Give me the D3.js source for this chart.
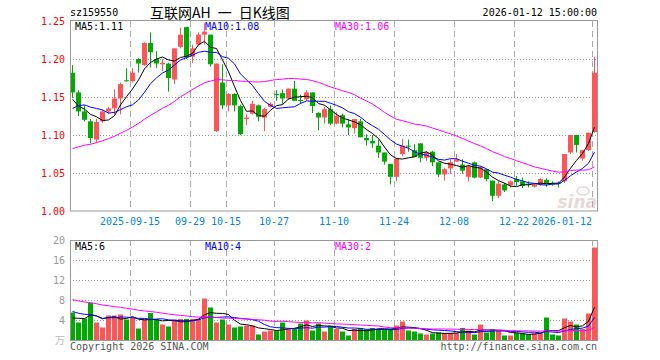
<!DOCTYPE html>
<html>
<head>
<meta charset="utf-8">
<script src="https://cdn.jsdelivr.net/npm/d3@7"></script>
<style>
  body { margin: 0; background: #fff; }
  svg { display: block; }
  text { font-family: "DejaVu Sans Mono", monospace; font-size: 10px; }
</style>
</head>
<body>
<div id="chart"></div>
<script>
// daily bars 2025-09-01 .. 2026-01-12
const openP = [
  1.182, 1.156, 1.131, 1.118, 1.094, 1.118, 1.131, 1.135, 1.148, 1.172,
  1.171, 1.200, 1.192, 1.221, 1.200, 1.193, 1.194, 1.173, 1.216, 1.242,
  1.203, 1.219, 1.232, 1.232, 1.105, 1.169, 1.139, 1.154, 1.138, 1.121,
  1.128, 1.139, 1.123, 1.137, 1.154, 1.155, 1.148, 1.161, 1.146, 1.147,
  1.156, 1.129, 1.123, 1.134, 1.115, 1.126, 1.114, 1.109, 1.118, 1.096,
  1.092, 1.086, 1.077, 1.062, 1.045, 1.075, 1.086, 1.080, 1.089, 1.070,
  1.078, 1.064, 1.048, 1.056, 1.065, 1.061, 1.045, 1.064, 1.044, 1.055,
  1.040, 1.020, 1.035, 1.034, 1.042, 1.039, 1.036, 1.032, 1.035, 1.041,
  1.037, 1.037, 1.039, 1.077, 1.100, 1.069, 1.080, 1.104
]
const highP = [
  1.192, 1.159, 1.139, 1.121, 1.121, 1.133, 1.137, 1.160, 1.169, 1.188,
  1.188, 1.201, 1.222, 1.235, 1.210, 1.200, 1.195, 1.214, 1.241, 1.242,
  1.219, 1.235, 1.247, 1.232, 1.194, 1.193, 1.155, 1.155, 1.140, 1.128,
  1.145, 1.140, 1.136, 1.143, 1.159, 1.160, 1.161, 1.171, 1.153, 1.159,
  1.156, 1.130, 1.137, 1.139, 1.130, 1.128, 1.121, 1.121, 1.121, 1.101,
  1.100, 1.094, 1.077, 1.062, 1.069, 1.095, 1.094, 1.088, 1.089, 1.079,
  1.079, 1.064, 1.057, 1.068, 1.075, 1.068, 1.061, 1.065, 1.059, 1.055,
  1.040, 1.040, 1.037, 1.040, 1.046, 1.044, 1.039, 1.036, 1.043, 1.043,
  1.039, 1.039, 1.075, 1.100, 1.100, 1.080, 1.103, 1.203
]
const lowP = [
  1.149, 1.125, 1.118, 1.089, 1.090, 1.116, 1.128, 1.127, 1.127, 1.170,
  1.169, 1.182, 1.191, 1.189, 1.188, 1.184, 1.157, 1.167, 1.214, 1.200,
  1.195, 1.218, 1.219, 1.190, 1.104, 1.134, 1.131, 1.131, 1.100, 1.113,
  1.127, 1.118, 1.105, 1.136, 1.145, 1.141, 1.146, 1.145, 1.141, 1.145,
  1.129, 1.106, 1.115, 1.113, 1.114, 1.110, 1.100, 1.102, 1.097, 1.086,
  1.083, 1.070, 1.061, 1.035, 1.039, 1.072, 1.078, 1.071, 1.064, 1.066,
  1.059, 1.045, 1.040, 1.049, 1.065, 1.049, 1.039, 1.043, 1.043, 1.039,
  1.013, 1.017, 1.025, 1.031, 1.033, 1.030, 1.031, 1.031, 1.033, 1.032,
  1.033, 1.031, 1.037, 1.075, 1.077, 1.066, 1.079, 1.103
]
const closeP = [
  1.156, 1.131, 1.120, 1.096, 1.117, 1.131, 1.135, 1.148, 1.167, 1.171,
  1.182, 1.194, 1.221, 1.209, 1.194, 1.195, 1.175, 1.214, 1.232, 1.202,
  1.214, 1.232, 1.236, 1.193, 1.194, 1.139, 1.154, 1.139, 1.101, 1.123,
  1.141, 1.124, 1.134, 1.141, 1.153, 1.148, 1.161, 1.145, 1.145, 1.156,
  1.138, 1.123, 1.134, 1.115, 1.125, 1.115, 1.110, 1.121, 1.097, 1.093,
  1.089, 1.077, 1.065, 1.045, 1.069, 1.086, 1.085, 1.071, 1.070, 1.077,
  1.064, 1.048, 1.055, 1.064, 1.068, 1.053, 1.059, 1.044, 1.058, 1.042,
  1.020, 1.036, 1.027, 1.039, 1.038, 1.033, 1.035, 1.035, 1.042, 1.035,
  1.035, 1.036, 1.075, 1.100, 1.087, 1.080, 1.103, 1.182
]
// volume, 万
const volume = [
  5.5, 3.5, 4.3, 7.4, 3.5, 2.5, 4.9, 4.9, 5.1, 4.1,
  4.4, 2.3, 4.2, 5.4, 4.1, 3.1, 2.7, 4.1, 4.2, 4.2,
  4.2, 4.2, 8.3, 6.5, 3.5, 4.1, 3.1, 2.5, 2.7, 2.9,
  2.9, 1.1, 1.7, 1.9, 1.9, 3.5, 2.2, 2.2, 3.3, 3.9,
  1.9, 3.3, 1.7, 2.9, 2.2, 1.7, 0.9, 2.2, 2.4, 2.1,
  2.4, 2.2, 2.1, 2.2, 2.9, 3.7, 1.9, 1.7, 1.3, 1.1,
  1.3, 1.5, 1.4, 1.4, 1.4, 2.4, 1.9, 1.1, 3.1, 1.5,
  2.2, 1.9, 0.9, 0.9, 1.4, 1.3, 1.1, 1.3, 1.5, 4.5,
  1.1, 0.9, 4.3, 3.7, 3.1, 2.2, 5.3, 18.5
]
// sessions before the window, only feed the moving averages
const preCloses = [
  1.058, 1.055, 1.060, 1.052, 1.057, 1.050, 1.054, 1.049, 1.053, 1.056,
  1.051, 1.055, 1.058, 1.054, 1.052, 1.057, 1.060, 1.055, 1.059, 1.065,
  1.095, 1.110, 1.125, 1.135, 1.150, 1.176, 1.140, 1.130, 1.133
]
const preVolumes = [
  11.0, 11.5, 10.4, 10.6, 9.9, 9.5, 10.2, 9.2, 9.8, 9.6,
  8.8, 8.4, 9.0, 8.6, 8.8, 7.8, 8.4, 7.6, 8.0, 8.2,
  7.0, 6.5, 7.5, 6.8, 7.2, 3.8, 4.6, 3.9, 4.2
]
const tickIndex = [10, 20, 26, 34, 44, 54, 64, 74, 87]
const tickLabels = ['2025-09-15', '09-29', '10-15', '10-27', '11-10', '11-24', '12-08', '12-22', '2026-01-12']
const priceTicks = [1.00, 1.05, 1.10, 1.15, 1.20, 1.25]
const volTicks = [4, 8, 12, 16, 20]
const maPeriods = [5, 10, 30]
const maColors = ['#000000', '#0000ff', '#ff00ff']

const W = 660, H = 360
const left = 70, right = 597
const upColor = '#ff5555', downColor = '#00aa00'
const gridColor = '#aaaaaa'
const n = closeP.length

const svg = d3.select('#chart').append('svg').attr('width', W).attr('height', H)

// scales
const x = d3.scaleLinear().domain([0, 88]).range([left, left + 6 * 88])
const yP = d3.scaleLinear().domain([1.0, 1.25]).range([211, 21])
const yV = d3.scaleLinear().domain([0, 20]).range([340, 240])
const cx = i => x(i) + 2.5

const movingAvg = (vals, pre, p) => {
  const all = pre.concat(vals)
  return vals.map((_, i) => d3.mean(all.slice(i + pre.length - p + 1, i + pre.length + 1)))
}

// header
svg.append('text').attr('x', 70).attr('y', 16).text('sz159550')
svg.append('text').attr('x', 150).attr('y', 18)
  .style('font-family', '"Noto Sans CJK SC", sans-serif').style('font-size', '14px')
  .style('white-space', 'pre')
  .text('互联网AH\u2002一\u2002日K线图')
svg.append('text').attr('x', 597).attr('y', 16).attr('text-anchor', 'end').text('2026-01-12 15:00:00')

// sina watermark
const mark = svg.append('g').attr('opacity', 0.55)
mark.append('text').attr('x', 597).attr('y', 208).attr('text-anchor', 'end')
  .style('font-family', '"DejaVu Sans", sans-serif').style('font-size', '17px')
  .style('font-weight', 'bold').style('font-style', 'italic').attr('fill', '#d8b8b8').text('sina')
mark.append('ellipse').attr('cx', 583).attr('cy', 191).attr('rx', 6).attr('ry', 4)
  .attr('fill', 'none').attr('stroke', '#d8b8b8').attr('stroke-width', 1.5)

const panel = (g, y0, y1) => {
  // vertical dashed date lines
  g.selectAll('line.v').data(tickIndex).enter().append('line')
    .attr('x1', i => x(i) + 0.5).attr('x2', i => x(i) + 0.5)
    .attr('y1', y0).attr('y2', y1)
    .attr('stroke', gridColor).attr('stroke-dasharray', '6,4')
}

// ---- price panel ----
const pg = svg.append('g')
panel(pg, 21, 211)
pg.selectAll('line.h').data(priceTicks.slice(1, -1)).enter().append('line')
  .attr('x1', left).attr('x2', right)
  .attr('y1', d => Math.round(yP(d)) + 0.5).attr('y2', d => Math.round(yP(d)) + 0.5)
  .attr('stroke', '#999').attr('stroke-dasharray', '1,2')
pg.selectAll('text.pl').data(priceTicks).enter().append('text')
  .attr('x', 65).attr('y', d => yP(d) + 4).attr('text-anchor', 'end')
  .attr('fill', '#ff0000').text(d => d.toFixed(2))

const candles = pg.append('g')
d3.range(n).forEach(i => {
  const up = closeP[i] >= openP[i]
  const col = up ? upColor : downColor
  candles.append('line')
    .attr('x1', cx(i)).attr('x2', cx(i))
    .attr('y1', yP(highP[i])).attr('y2', yP(lowP[i]))
    .attr('stroke', col)
  const top = yP(Math.max(openP[i], closeP[i]))
  const bot = yP(Math.min(openP[i], closeP[i]))
  candles.append('rect')
    .attr('x', x(i)).attr('width', 5)
    .attr('y', top).attr('height', Math.max(1, bot - top))
    .attr('fill', col)
})

const priceMA = maPeriods.map(p => movingAvg(closeP, preCloses, p))
priceMA.forEach((m, k) => {
  pg.append('path').datum(m)
    .attr('d', d3.line().x((d, i) => cx(i)).y(d => yP(d)))
    .attr('fill', 'none').attr('stroke', maColors[k]).attr('stroke-width', 1)
})

pg.append('rect').attr('x', left + 0.5).attr('y', 20.5).attr('width', right - left).attr('height', 190.5)
  .attr('fill', 'none').attr('stroke', '#999')

maPeriods.forEach((p, k) => {
  pg.append('text').attr('x', 75 + k * 130).attr('y', 30).attr('fill', maColors[k])
    .text(`MA${p}:${priceMA[k][n - 1].toFixed(2)}`)
})

// date labels
svg.selectAll('text.xl').data(tickIndex).enter().append('text')
  .attr('x', d => x(d))
  .attr('y', 225)
  .attr('text-anchor', (d, k) => k === tickIndex.length - 1 ? 'end' : 'middle')
  .attr('fill', '#0088dd')
  .text((d, k) => tickLabels[k])

// ---- volume panel ----
const vg = svg.append('g')
panel(vg, 240, 340)
vg.selectAll('line.h').data(volTicks.slice(0, -1)).enter().append('line')
  .attr('x1', left).attr('x2', right)
  .attr('y1', d => yV(d) + 0.5).attr('y2', d => yV(d) + 0.5)
  .attr('stroke', '#999').attr('stroke-dasharray', '1,2')
vg.selectAll('text.vl').data(volTicks).enter().append('text')
  .attr('x', 65).attr('y', d => yV(d) + 4).attr('text-anchor', 'end')
  .attr('fill', '#999').text(d => d)
vg.append('text').attr('x', 65).attr('y', 344).attr('text-anchor', 'end')
  .style('font-family', '"Noto Sans CJK SC", sans-serif').style('font-size', '10px')
  .attr('fill', '#bbb').text('万')

vg.selectAll('rect.bar').data(volume).enter().append('rect')
  .attr('x', (d, i) => x(i)).attr('width', 5)
  .attr('y', d => yV(d)).attr('height', d => yV(0) - yV(d))
  .attr('fill', (d, i) => closeP[i] >= openP[i] ? upColor : downColor)

const volMA = maPeriods.map(p => movingAvg(volume, preVolumes, p))
volMA.forEach((m, k) => {
  vg.append('path').datum(m)
    .attr('d', d3.line().x((d, i) => cx(i)).y(d => yV(d)))
    .attr('fill', 'none').attr('stroke', maColors[k]).attr('stroke-width', 1)
})

vg.append('rect').attr('x', left + 0.5).attr('y', 240.5).attr('width', right - left).attr('height', 100)
  .attr('fill', 'none').attr('stroke', '#999')

maPeriods.forEach((p, k) => {
  vg.append('text').attr('x', 75 + k * 130).attr('y', 250).attr('fill', maColors[k])
    .text(`MA${p}:${Math.floor(volMA[k][n - 1])}`)
})

// footer
svg.append('text').attr('x', 70).attr('y', 350).attr('fill', '#555').text('Copyright 2026 SINA.COM')
svg.append('text').attr('x', 597).attr('y', 350).attr('text-anchor', 'end').attr('fill', '#555')
  .text('http://finance.sina.com.cn')
</script>
</body>
</html>
